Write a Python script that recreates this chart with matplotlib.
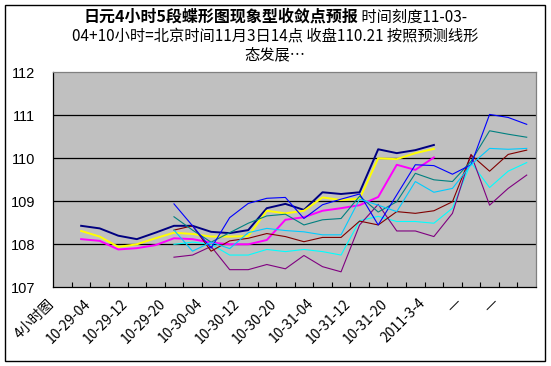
import numpy as np
import matplotlib
matplotlib.use('Agg')
import matplotlib.pyplot as plt
from matplotlib.patches import Rectangle
from matplotlib.transforms import blended_transform_factory, ScaledTranslation

plt.rcParams['font.family'] = ['Noto Sans CJK SC', 'DejaVu Sans']

# categories (26 slots, every other one labelled)
cat_labels = ['4小时图', '10-29-04', '10-29-12', '10-29-20', '10-30-04', '10-30-12',
              '10-30-20', '10-31-04', '10-31-12', '10-31-20', '2011-3-4', '—', '—']
n_cat = 26

# history patterns, categories 1..20
hist_x = np.arange(1, 21)
navy = [108.43, 108.37, 108.20, 108.12, 108.27, 108.43, 108.43, 108.29, 108.26, 108.33,
        108.84, 108.94, 108.80, 109.21, 109.17, 109.21, 110.21, 110.12, 110.19, 110.31]
magenta = [108.12, 108.08, 107.88, 107.91, 107.98, 108.14, 108.12, 108.04, 108.00, 108.00,
           108.10, 108.57, 108.63, 108.78, 108.84, 108.91, 109.10, 109.85, 109.73, 110.02]
yellow = [108.31, 108.18, 107.94, 108.00, 108.14, 108.27, 108.24, 108.18, 108.18, 108.19,
          108.78, 108.72, 108.78, 109.09, 109.03, 109.06, 110.00, 109.98, 110.12, 110.22]

# forecast lines, categories 6..25
fc_x = np.arange(6, 26)
cyan = [108.00, 108.05, 108.00, 107.75, 107.75, 107.88, 107.83, 107.88, 107.83, 107.75,
        108.55, 108.65, 108.53, 108.53, 108.49, 108.84, 109.90, 109.32, 109.70, 109.90]
purple = [107.70, 107.75, 107.95, 107.41, 107.41, 107.53, 107.43, 107.74, 107.48, 107.36,
          108.45, 108.93, 108.31, 108.31, 108.18, 108.72, 110.09, 108.91, 109.30, 109.61]
maroon = [108.33, 108.43, 107.84, 108.08, 108.14, 108.25, 108.18, 108.06, 108.16, 108.16,
          108.54, 108.45, 108.76, 108.72, 108.78, 108.99, 110.08, 109.70, 110.09, 110.19]
teal = [108.64, 108.33, 108.05, 108.27, 108.49, 108.66, 108.70, 108.45, 108.57, 108.60,
        109.12, 108.75, 108.99, 109.65, 109.50, 109.46, 109.93, 110.64, 110.56, 110.49]
blue = [108.94, 108.43, 107.91, 108.62, 108.95, 109.07, 109.09, 108.60, 108.92, 109.05,
        109.17, 108.45, 109.15, 109.85, 109.83, 109.63, 109.85, 111.02, 110.95, 110.79]
skyblue = [108.33, 107.84, 108.05, 107.90, 108.27, 108.37, 108.32, 108.29, 108.22, 108.22,
           109.05, 108.91, 108.76, 109.46, 109.21, 109.30, 109.85, 110.23, 110.21, 110.23]

W, H = 551, 366
fig = plt.figure(figsize=(W / 100, H / 100), dpi=100)
fig.patches.append(Rectangle((5 / W, 1 - 361 / H), 540 / W, 356 / H, transform=fig.transFigure,
                             fill=False, edgecolor='black', linewidth=1))

x0, x1, y0, y1 = 53.3, 536, 72.3, 287.3
ax = fig.add_axes([x0 / W, 1 - y1 / H, (x1 - x0) / W, (y1 - y0) / H])
ax.set_facecolor('#C0C0C0')

for v in [108, 109, 110, 111]:
    ax.axhline(v, color='black', linewidth=0.9, zorder=1)

for y, c in [(navy, '#000080'), (magenta, '#FF00FF'), (yellow, '#FFFF00')]:
    ax.plot(hist_x, y, color=c, linewidth=1.4, zorder=3)
for y, c in [(cyan, '#00FFFF'), (purple, '#800080'), (maroon, '#800000'),
             (teal, '#008080'), (blue, '#0000FF'), (skyblue, '#00CCFF')]:
    ax.plot(fc_x, y, color=c, linewidth=0.8, zorder=3)

ax.set_xlim(-0.5, n_cat - 0.5)
ax.set_ylim(107, 112)
ax.set_yticks(range(107, 113))
ax.set_yticklabels([str(v) for v in range(107, 113)], family='Liberation Sans', fontsize=10.5)
ax.tick_params(axis='y', length=0, pad=13)
ax.set_xticks(np.arange(0.5, n_cat - 1, 1.0))
ax.set_xticklabels([])
ax.tick_params(axis='x', direction='in', length=3.5, width=0.8, color='black')

for s in ['top', 'right']:
    ax.spines[s].set_color('#808080')
for s in ['left', 'bottom']:
    ax.spines[s].set_color('black')
for s in ax.spines.values():
    s.set_linewidth(0.9)

trans = blended_transform_factory(ax.transData, ax.transAxes) + \
    ScaledTranslation(-6 / 100, -9 / 100, fig.dpi_scale_trans)
for i, lab in enumerate(cat_labels):
    fam = ['DejaVu Sans'] if lab == '—' else None
    ax.text(2 * i, 0, lab, rotation=45, ha='right', va='top', fontsize=10,
            transform=trans, family=fam)

# title, first part bold
cx = 275
bold = '日元4小时5段蝶形图现象型收敛点预报'
rest = ' 时间刻度11-03-'
t1 = fig.text(0, 1 - 17 / H, bold, fontsize=11.5, weight='bold', va='center')
t2 = fig.text(0, 1 - 17 / H, rest, fontsize=11, va='center')
r = fig.canvas.get_renderer()
w1 = t1.get_window_extent(r).width
w2 = t2.get_window_extent(r).width
start = cx - (w1 + w2) / 2
t1.set_x(start / W)
t2.set_x((start + w1) / W)
fig.text(cx / W, 1 - 36 / H, '04+10小时=北京时间11月3日14点 收盘110.21 按照预测线形',
         fontsize=11, ha='center', va='center')
fig.text(cx / W, 1 - 55 / H, '态发展…', fontsize=11, ha='center', va='center')

fig.savefig('out.png', dpi=100)
